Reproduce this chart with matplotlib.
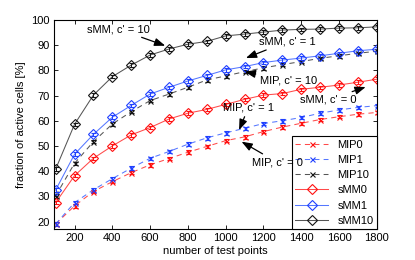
import matplotlib
matplotlib.use("Agg")
import matplotlib.pyplot as plt
from matplotlib.lines import Line2D

plt.rcParams["font.family"] = ["Liberation Sans", "DejaVu Sans"]

x = [100, 200, 300, 400, 500, 600, 700, 800, 900, 1000, 1100, 1200, 1300, 1400, 1500, 1600, 1700, 1800]
mip0 = [19.0, 26.2, 31.9, 35.8, 39.4, 42.5, 45.0, 47.5, 49.8, 52.1, 53.6, 55.7, 57.5, 59.0, 60.5, 61.6, 62.6, 63.3]
mip1 = [19.0, 27.5, 32.6, 37.0, 41.2, 45.1, 47.8, 50.7, 53.2, 55.2, 57.0, 58.9, 60.0, 61.3, 63.0, 64.3, 65.3, 66.0]
mip10 = [30.2, 43.1, 51.7, 58.7, 63.6, 68.0, 70.6, 73.3, 76.2, 77.8, 79.5, 81.0, 82.3, 83.5, 84.8, 85.8, 86.8, 87.6]
smm0 = [27.5, 38.2, 45.1, 50.0, 54.4, 57.3, 60.7, 63.0, 64.5, 66.5, 68.5, 70.2, 70.8, 72.5, 73.3, 74.2, 75.3, 76.5]
smm1 = [32.5, 46.7, 54.6, 61.4, 66.1, 70.6, 73.3, 75.8, 78.0, 80.2, 81.5, 83.1, 84.1, 84.9, 85.8, 86.8, 87.8, 88.4]
smm10 = [40.8, 58.6, 70.2, 77.5, 82.1, 86.1, 88.5, 90.4, 91.5, 93.7, 94.4, 95.2, 96.0, 96.3, 96.4, 96.8, 96.9, 97.3]
err = 0.7

xticks = [200, 400, 600, 800, 1000, 1200, 1400, 1600, 1800]
yticks = [20, 30, 40, 50, 60, 70, 80, 90, 100]

# (line colour, marker colour)
red = ("#ff4a4a", "#ff1010")
blue = ("#5577ff", "#2040ff")
black = ("#555555", "#151515")
fs = 8

fig = plt.figure(figsize=(4.15, 2.6), dpi=100)
ax = fig.add_axes([0.130, 0.119, 0.778, 0.804])

series = [
    ("MIP0", mip0, red, "--", "x"),
    ("MIP1", mip1, blue, "--", "x"),
    ("MIP10", mip10, black, "--", "x"),
    ("sMM0", smm0, red, "-", "D"),
    ("sMM1", smm1, blue, "-", "D"),
    ("sMM10", smm10, black, "-", "D"),
]
handles = []
for name, ys, (lc, mc), ls, mk in series:
    ms = 3.6 if mk == "x" else 4.8
    ax.plot(x, ys, color=lc, ls=ls, lw=0.75, dashes=(5, 4) if ls == "--" else (None, None))
    ax.errorbar(x, ys, yerr=err, color=mc, ls="none", marker=mk, ms=ms,
                mfc="none", mec=mc, mew=0.8, capsize=1.8, elinewidth=0.7, capthick=0.8)
    handles.append(Line2D([], [], color=lc, ls=ls, lw=0.75, marker=mk, ms=ms,
                          mfc="none", mec=mc, mew=0.8,
                          dashes=(5, 4) if ls == "--" else (None, None), label=name))

ax.set_xlim(91, 1800)
ax.set_ylim(17, 100)
ax.set_xticks(xticks)
ax.set_yticks(yticks)
ax.tick_params(direction="in", top=True, right=True, labelsize=fs, length=3, width=0.6, pad=3)
for s in ax.spines.values():
    s.set_linewidth(0.8)
ax.set_xlabel("number of test points", fontsize=fs, labelpad=2)
ax.set_ylabel("fraction of active cells [%]", fontsize=fs, labelpad=4)

leg = ax.legend(handles=handles, loc="lower right", fontsize=fs, frameon=True, fancybox=False,
                edgecolor="black", framealpha=1, borderaxespad=0,
                handlelength=3.0, labelspacing=0.47, borderpad=0.3, handletextpad=0.8)
leg.get_frame().set_linewidth(0.8)

aprops = dict(arrowstyle="-|>,head_length=0.8,head_width=0.3", color="black", lw=0.9,
              shrinkA=1, shrinkB=0)
ann = [
    ("sMM, c' = 10", 680, 89.8, 266, 96.4),
    ("sMM, c' = 1", 1107, 84.9, 1175, 91.4),
    ("MIP, c' = 10", 1101, 79.5, 1181, 75.8),
    ("sMM, c' = 0", 1741, 73.4, 1392, 68.3),
    ("MIP, c' = 1", 1071, 56.3, 985, 65.2),
    ("MIP, c' = 0", 1084, 51.7, 1138, 43.5),
]
for txt, ax_, ay, tx, ty in ann:
    ax.annotate(txt, xy=(ax_, ay), xytext=(tx, ty), fontsize=fs,
                ha="left", va="center", arrowprops=aprops, zorder=7)

fig.savefig("out.png", dpi=100)
